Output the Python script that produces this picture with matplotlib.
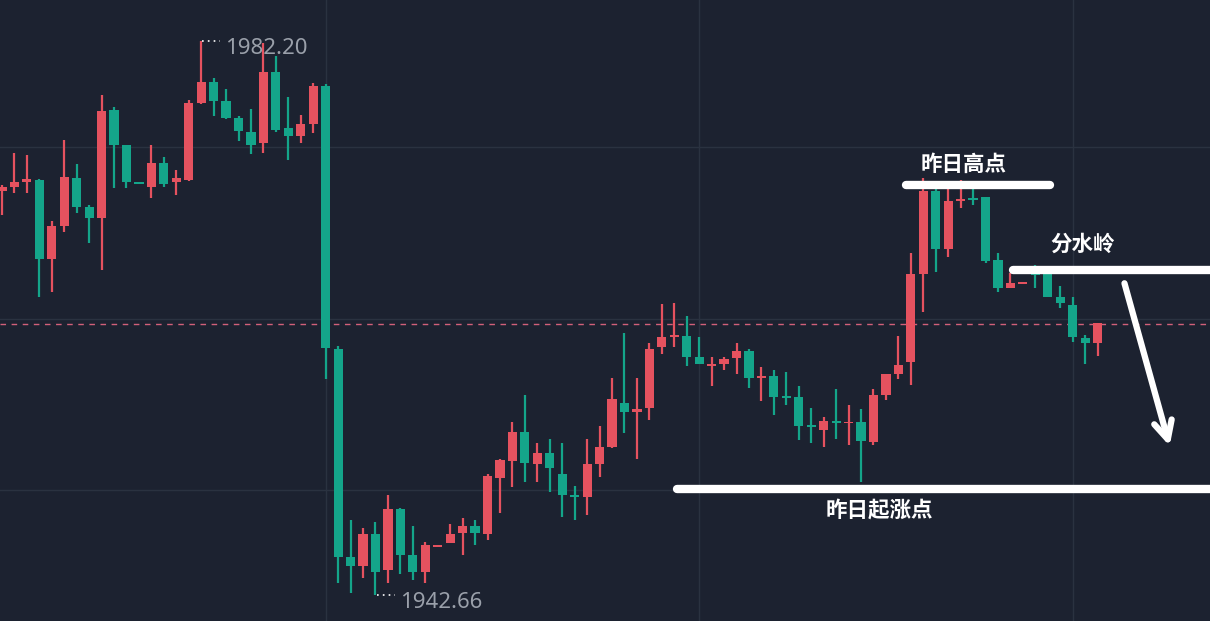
import numpy as np
import matplotlib
matplotlib.use("Agg")
import matplotlib.pyplot as plt

plt.rcParams['font.family'] = ['Noto Sans CJK SC', 'DejaVu Sans']

# candle data
opens = [1971.49, 1971.78, 1972.14, 1972.28, 1966.64, 1969.00, 1972.42, 1970.35, 1969.57, 1977.28,
         1974.78, 1972.06, 1971.78, 1973.49, 1972.14, 1972.28, 1977.78, 1979.27, 1977.92, 1976.70,
         1975.70, 1974.92, 1979.99, 1975.99, 1975.42, 1976.28, 1978.99, 1960.22, 1945.37, 1944.73,
         1947.01, 1944.44, 1948.80, 1945.51, 1944.30, 1946.08, 1946.37, 1947.08, 1947.58, 1947.01,
         1951.01, 1952.22, 1954.29, 1952.01, 1952.79, 1951.29, 1949.72, 1949.65, 1952.01, 1953.22,
         1956.36, 1955.72, 1956.00, 1960.36, 1961.07, 1961.14, 1959.64, 1959.00, 1959.14, 1959.57,
         1960.07, 1958.15, 1958.29, 1956.79, 1956.79, 1954.68, 1954.43, 1955.08, 1954.90, 1955.00,
         1953.58, 1956.93, 1958.43, 1959.29, 1965.57, 1971.49, 1967.35, 1970.78, 1970.92, 1971.07,
         1966.57, 1964.57, 1964.89, 1965.71, 1965.71, 1963.93, 1963.36, 1961.00, 1960.64]
highs = [1971.92, 1974.21, 1974.06, 1972.35, 1969.35, 1975.13, 1973.42, 1970.49, 1978.35, 1977.49,
         1974.78, 1972.10, 1974.78, 1973.92, 1972.99, 1977.99, 1982.20, 1979.56, 1978.77, 1976.85,
         1977.35, 1982.06, 1981.13, 1978.20, 1976.92, 1979.20, 1979.13, 1960.43, 1948.01, 1947.44,
         1947.87, 1949.79, 1948.87, 1947.58, 1946.44, 1946.15, 1947.72, 1948.15, 1948.01, 1951.29,
         1952.36, 1955.01, 1956.93, 1953.51, 1953.79, 1953.51, 1950.44, 1953.79, 1954.72, 1958.15,
         1961.36, 1958.15, 1960.64, 1963.43, 1963.50, 1962.57, 1961.07, 1959.64, 1959.64, 1960.64,
         1960.22, 1958.93, 1958.71, 1958.57, 1957.57, 1956.00, 1955.36, 1957.36, 1956.22, 1955.93,
         1957.36, 1958.43, 1961.14, 1967.07, 1972.42, 1971.64, 1971.64, 1972.28, 1971.64, 1971.07,
         1967.07, 1965.64, 1964.96, 1966.21, 1965.85, 1964.71, 1963.93, 1961.21, 1962.05]
lows = [1969.78, 1971.35, 1971.35, 1963.93, 1964.28, 1968.57, 1969.92, 1967.78, 1965.85, 1971.71,
        1971.71, 1971.99, 1970.99, 1971.78, 1971.21, 1972.21, 1977.71, 1976.85, 1976.63, 1975.06,
        1974.13, 1974.21, 1975.70, 1973.71, 1974.92, 1975.63, 1958.07, 1943.51, 1942.80, 1943.87,
        1942.66, 1943.51, 1944.16, 1943.73, 1943.51, 1946.08, 1946.37, 1945.51, 1946.23, 1946.58,
        1948.51, 1950.37, 1950.72, 1950.72, 1950.01, 1948.22, 1948.01, 1948.37, 1951.08, 1953.15,
        1954.22, 1952.36, 1955.15, 1959.86, 1960.36, 1959.00, 1959.14, 1957.57, 1958.71, 1958.43,
        1957.43, 1956.50, 1955.50, 1956.22, 1953.72, 1953.51, 1953.22, 1953.79, 1953.36, 1950.72,
        1953.36, 1956.58, 1958.07, 1957.64, 1962.86, 1965.71, 1966.78, 1970.28, 1970.49, 1966.35,
        1964.28, 1964.57, 1964.89, 1964.57, 1963.93, 1963.14, 1960.71, 1959.14, 1959.71]
closes = [1971.78, 1972.14, 1972.35, 1966.64, 1969.00, 1972.49, 1970.35, 1969.57, 1977.20, 1974.78,
          1972.14, 1971.99, 1973.49, 1971.99, 1972.42, 1977.78, 1979.27, 1977.92, 1976.70, 1975.78,
          1974.78, 1979.99, 1975.85, 1975.42, 1976.28, 1978.99, 1960.29, 1945.37, 1944.73, 1947.01,
          1944.30, 1948.80, 1945.51, 1944.30, 1946.23, 1946.15, 1947.01, 1947.58, 1947.08, 1951.15,
          1952.29, 1954.29, 1952.08, 1952.79, 1951.72, 1949.79, 1949.65, 1952.01, 1953.22, 1956.65,
          1955.72, 1955.93, 1960.22, 1961.07, 1961.14, 1959.64, 1959.14, 1959.14, 1959.50, 1960.07,
          1958.15, 1958.22, 1956.79, 1956.72, 1954.72, 1954.65, 1955.08, 1954.93, 1954.97, 1953.65,
          1956.93, 1958.43, 1959.07, 1965.57, 1971.49, 1967.35, 1970.78, 1970.85, 1970.85, 1966.50,
          1964.57, 1964.93, 1964.96, 1965.50, 1963.93, 1963.50, 1961.07, 1960.64, 1962.05]

high_label = 1982.20
low_label = 1942.66
last_price = 1962.00
grid_prices = [1974.63, 1962.35, 1950.15]
grid_bars = [26, 56, 86]

# annotation levels
level_high = 1971.92     # 昨日高点
level_water = 1965.85    # 分水岭
level_start = 1950.22    # 昨日起涨点

bg = '#1c2230'
up_col = '#e5525f'
down_col = '#14a58a'

fig = plt.figure(figsize=(12.1, 6.21), dpi=100)
fig.patch.set_facecolor(bg)
ax = fig.add_axes([0, 0, 1, 1])
ax.set_facecolor(bg)

x = np.arange(len(opens))
o = np.array(opens); h = np.array(highs); l = np.array(lows); c = np.array(closes)
colors = np.where(c >= o, up_col, down_col)

for g in grid_prices:
    ax.axhline(g, color='#2a3240', lw=1, zorder=0)
for g in grid_bars:
    ax.axvline(g, color='#2a3240', lw=1, zorder=0)

ax.vlines(x, l, h, colors=colors, lw=1.6, zorder=2)
ax.bar(x, np.maximum(np.abs(c - o), 0.12), bottom=np.minimum(o, c), width=0.74,
       color=colors, zorder=3)

ax.axhline(last_price, color='#d2607a', lw=1, dashes=(4, 4), zorder=1)

# high / low labels
ax.plot([16.1, 17.5], [high_label, high_label], color='white', lw=1.2, ls=(0, (1, 2.5)), zorder=4)
ax.text(17.9, high_label - 0.5, '%.2f' % high_label, color='#9aa0aa', fontsize=16,
        family='Noto Sans', va='center', ha='left', zorder=5)
ax.plot([30.1, 31.6], [low_label, low_label], color='white', lw=1.2, ls=(0, (1, 2.5)), zorder=4)
ax.text(32.0, low_label - 0.55, '%.2f' % low_label, color='#9aa0aa', fontsize=16,
        family='Noto Sans', va='center', ha='left', zorder=5)

# hand-drawn annotations
ax.plot([72.6, 84.2], [level_high, level_high], color='white', lw=6, solid_capstyle='round', zorder=6)
ax.text(77.2, level_high + 1.5, '昨日高点', color='white', fontsize=15.5, fontweight='bold',
        ha='center', va='center', zorder=6)
ax.plot([81.2, 98], [level_water, level_water], color='white', lw=6, solid_capstyle='round', zorder=6)
ax.text(86.8, level_water + 1.85, '分水岭', color='white', fontsize=15.5, fontweight='bold',
        ha='center', va='center', zorder=6)
ax.plot([54.2, 98], [level_start, level_start], color='white', lw=6, solid_capstyle='round', zorder=6)
ax.text(70.5, level_start - 1.5, '昨日起涨点', color='white', fontsize=15.5, fontweight='bold',
        ha='center', va='center', zorder=6)
ax.annotate('', xy=(93.85, 1953.1), xytext=(90.1, 1965.1),
            arrowprops=dict(arrowstyle='->,head_length=1.3,head_width=0.65', color='white', lw=4.5),
            zorder=6)

ax.set_xlim(-0.16, 97.03)
ax.set_ylim(1940.80, 1985.13)
ax.axis('off')

fig.savefig('out.png', dpi=100, facecolor=bg)
